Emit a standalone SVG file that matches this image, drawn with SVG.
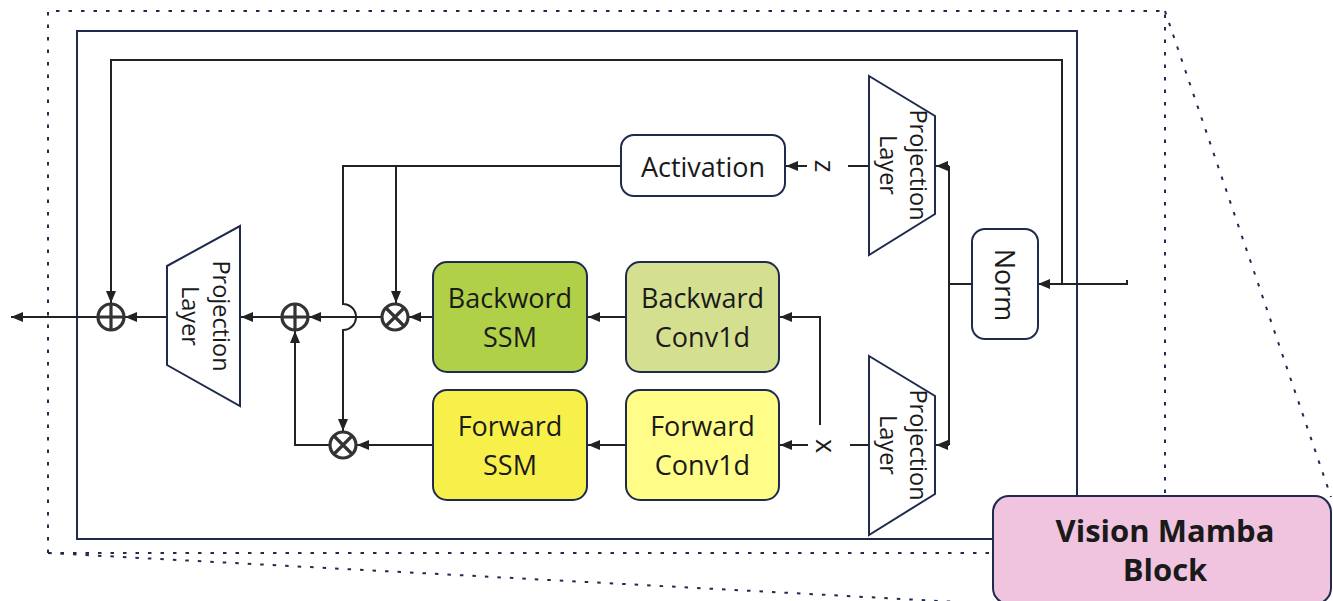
<svg xmlns="http://www.w3.org/2000/svg" width="1333" height="601" viewBox="0 0 1333 601">
  <style>
    .dot { fill: none; stroke: #1f2a4f; stroke-width: 2; stroke-dasharray: 3.5 9; }
    .frame { fill: none; stroke: #1f2a4f; stroke-width: 2; }
    .box { stroke: #1f2a4f; stroke-width: 2; }
    .trap { fill: #ffffff; stroke: #1f2a4f; stroke-width: 2; }
    .wire { fill: none; stroke: #222222; stroke-width: 2; }
    .op { fill: #ffffff; stroke: #333333; stroke-width: 3.2; }
    .opl { stroke: #333333; stroke-width: 3.2; }
    .lbl { font-family: "Open Sans", "Noto Sans", sans-serif; font-size: 27px; fill: #1a1a1a; text-anchor: middle; }
    .plbl { font-family: "Open Sans", "Noto Sans", sans-serif; font-size: 23.5px; fill: #1a1a1a; text-anchor: middle; }
    .title { font-family: "Open Sans", "Noto Sans", sans-serif; font-size: 31px; font-weight: bold; fill: #1a1a1a; text-anchor: middle; }
  </style>
  <defs>
    <marker id="arrow" viewBox="0 0 12 10" refX="12" refY="5" markerWidth="12" markerHeight="10" markerUnits="userSpaceOnUse" orient="auto">
      <path d="M0,0 L12,5 L0,10 z" fill="#222222"/>
    </marker>
  </defs>

  <!-- zoom outline (dotted) -->
  <g id="zoom-outline">
    <path class="dot" d="M48,553 V11 H1165 V496"/>
    <path class="dot" d="M48,553 H993"/>
    <path class="dot" d="M1165,11 L1331,497"/>
    <path class="dot" d="M48,553 L995,604"/>
  </g>

  <!-- block frame -->
  <rect id="block-frame" class="frame" x="77" y="31" width="1000" height="508"/>

  <!-- connectors -->
  <g id="connectors">
    <!-- input into Norm and residual skip -->
    <path class="wire" d="M1127,280 V284 H1038" marker-end="url(#arrow)"/>
    <path class="wire" d="M1062,284 V60 H111 V303" marker-end="url(#arrow)"/>
    <!-- Norm to both projection layers -->
    <path class="wire" d="M972,284 H949"/>
    <path class="wire" d="M949,166 V445"/>
    <path class="wire" d="M949,166 H936" marker-end="url(#arrow)"/>
    <path class="wire" d="M949,445 H936" marker-end="url(#arrow)"/>
    <!-- z branch -->
    <path class="wire" d="M869,166 H848"/>
    <path class="wire" d="M807,166 H786" marker-end="url(#arrow)"/>
    <!-- x branch -->
    <path class="wire" d="M869,445 H850"/>
    <path class="wire" d="M808,445 H780" marker-end="url(#arrow)"/>
    <path class="wire" d="M820,425 V317 H780" marker-end="url(#arrow)"/>
    <!-- conv to ssm -->
    <path class="wire" d="M626,317 H588" marker-end="url(#arrow)"/>
    <path class="wire" d="M626,445 H588" marker-end="url(#arrow)"/>
    <!-- ssm to gates -->
    <path class="wire" d="M433,317 H409" marker-end="url(#arrow)"/>
    <path class="wire" d="M433,445 H357" marker-end="url(#arrow)"/>
    <!-- activation gating paths -->
    <path class="wire" d="M621,166 H343 V304 A13,13 0 0 1 343,330 V431" marker-end="url(#arrow)"/>
    <path class="wire" d="M396,166 V303" marker-end="url(#arrow)"/>
    <!-- gates to sum -->
    <path class="wire" d="M382,317 H309" marker-end="url(#arrow)"/>
    <path class="wire" d="M330,445 H295 V331" marker-end="url(#arrow)"/>
    <!-- sum to output projection, residual add, output -->
    <path class="wire" d="M281,317 H241" marker-end="url(#arrow)"/>
    <path class="wire" d="M167,317 H125" marker-end="url(#arrow)"/>
    <path class="wire" d="M97,317 H11" marker-end="url(#arrow)"/>
  </g>

  <!-- nodes -->
  <g id="norm">
    <rect class="box" x="972" y="229" width="66" height="110" rx="13" fill="#ffffff"/>
    <text class="lbl" transform="translate(995,285) rotate(90)" x="0" y="0">Norm</text>
  </g>

  <g id="proj-in-z">
    <polygon class="trap" points="869,76 935,116 935,214 869,255"/>
    <text class="plbl" transform="translate(902,165) rotate(90)"><tspan x="0" y="-8">Projection</tspan><tspan x="0" y="22">Layer</tspan></text>
  </g>

  <g id="proj-in-x">
    <polygon class="trap" points="869,356 935,396 935,494 869,535"/>
    <text class="plbl" transform="translate(902,445) rotate(90)"><tspan x="0" y="-8">Projection</tspan><tspan x="0" y="22">Layer</tspan></text>
  </g>

  <g id="label-z">
    <text class="lbl" transform="translate(815,166) rotate(90)" x="0" y="0">z</text>
  </g>
  <g id="label-x">
    <text class="lbl" transform="translate(816,446) rotate(90)" x="0" y="0">x</text>
  </g>

  <g id="activation">
    <rect class="box" x="621" y="135" width="164" height="61" rx="13" fill="#ffffff"/>
    <text class="lbl" x="703" y="177">Activation</text>
  </g>

  <g id="backward-conv1d">
    <rect class="box" x="626" y="262" width="153" height="110" rx="14" fill="#d4e090"/>
    <text class="lbl"><tspan x="702.5" y="308">Backward</tspan><tspan x="702.5" y="347">Conv1d</tspan></text>
  </g>

  <g id="backward-ssm">
    <rect class="box" x="433" y="262" width="154" height="110" rx="14" fill="#b0d048"/>
    <text class="lbl"><tspan x="510" y="308">Backword</tspan><tspan x="510" y="347">SSM</tspan></text>
  </g>

  <g id="forward-conv1d">
    <rect class="box" x="626" y="390" width="153" height="110" rx="14" fill="#fffc88"/>
    <text class="lbl"><tspan x="702.5" y="436">Forward</tspan><tspan x="702.5" y="475">Conv1d</tspan></text>
  </g>

  <g id="forward-ssm">
    <rect class="box" x="433" y="390" width="154" height="110" rx="14" fill="#f8f04a"/>
    <text class="lbl"><tspan x="510" y="436">Forward</tspan><tspan x="510" y="475">SSM</tspan></text>
  </g>

  <g id="mul-backward">
    <circle class="op" cx="395" cy="317" r="13"/>
    <path class="opl" d="M386,308 L404,326 M404,308 L386,326"/>
  </g>

  <g id="mul-forward">
    <circle class="op" cx="343" cy="445" r="13"/>
    <path class="opl" d="M334,436 L352,454 M352,436 L334,454"/>
  </g>

  <g id="add-branches">
    <circle class="op" cx="295" cy="317" r="13"/>
    <path class="opl" d="M282,317 H308 M295,304 V330"/>
  </g>

  <g id="proj-out">
    <polygon class="trap" points="167,266 240,226 240,406 167,365"/>
    <text class="plbl" transform="translate(203,316) rotate(90)"><tspan x="0" y="-10">Projection</tspan><tspan x="0" y="21">Layer</tspan></text>
  </g>

  <g id="add-residual">
    <circle class="op" cx="111" cy="317" r="13"/>
    <path class="opl" d="M98,317 H124 M111,304 V330"/>
  </g>

  <g id="block-title">
    <rect class="box" x="993" y="496" width="338" height="108" rx="16" fill="#f0c4de"/>
    <text class="title"><tspan x="1165" y="542">Vision Mamba</tspan><tspan x="1165" y="581">Block</tspan></text>
  </g>
</svg>
